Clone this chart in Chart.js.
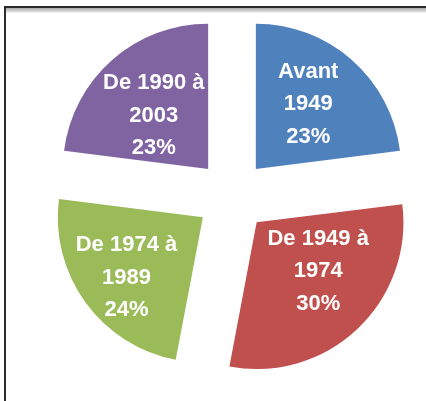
<!DOCTYPE html>
<html>
<head>
<meta charset="utf-8">
<script src="https://cdn.jsdelivr.net/npm/chart.js@4"></script>
<style>
  html, body { margin: 0; padding: 0; background: #fff; }
  #wrap { width: 426px; height: 401px; }
</style>
</head>
<body>
<div id="wrap"><canvas id="partChart"></canvas></div>
<script>
// périodes de construction et part de chacune
const periodes = ['Avant\n1949', 'De 1949 à\n1974', 'De 1974 à\n1989', 'De 1990 à\n2003'];
const parts = [23, 30, 24, 23];
const couleurs = ['#4F81BD', '#C0504D', '#9BBB59', '#8064A2'];

// place des étiquettes dans chaque part : [fraction du rayon, décalage d'angle en degrés]
const placeEtiquettes = [[0.59, -3.6], [0.53, -10], [0.66, -1], [0.54, -2.6]];

// cadre autour de l'image
const cadre = {
  id: 'cadre',
  beforeDraw(chart) {
    const ctx = chart.ctx;
    ctx.save();
    ctx.fillStyle = '#fff';
    ctx.fillRect(0, 0, chart.width, chart.height);
    const grad = ctx.createLinearGradient(0, 8, 0, 13);
    grad.addColorStop(0, '#a8a8a8');
    grad.addColorStop(1, '#f4f4f4');
    ctx.fillStyle = grad;
    ctx.fillRect(6, 8, chart.width - 6, 5);
    ctx.fillStyle = '#2b2b2b';
    ctx.fillRect(4, 6, chart.width - 4, 2);
    ctx.fillRect(4, 6, 2, chart.height - 6);
    ctx.restore();
  }
};

// texte blanc au milieu de chaque part
const etiquettes = {
  id: 'etiquettes',
  afterDatasetsDraw(chart) {
    const ctx = chart.ctx;
    const meta = chart.getDatasetMeta(0);
    ctx.save();
    ctx.fillStyle = '#fff';
    ctx.font = 'bold 22px "Liberation Sans", Arial, sans-serif';
    ctx.textAlign = 'center';
    ctx.textBaseline = 'middle';
    meta.data.forEach((arc, i) => {
      const p = arc.getProps(['x', 'y', 'startAngle', 'endAngle', 'outerRadius']);
      const mid = (p.startAngle + p.endAngle) / 2;
      // l'arc est déplacé du quart de son option offset
      const off = (arc.options.offset || 0) / 4;
      const cx = p.x + Math.cos(mid) * off;
      const cy = p.y + Math.sin(mid) * off;
      const [frac, dDeg] = placeEtiquettes[i];
      const a = mid + dDeg * Math.PI / 180;
      const tx = cx + Math.cos(a) * p.outerRadius * frac;
      const ty = cy + Math.sin(a) * p.outerRadius * frac + 3;
      const lignes = periodes[i].split('\n').concat(parts[i] + '%');
      lignes.forEach((l, k) => {
        ctx.fillText(l, tx, ty + (k - 1) * 32.5);
      });
    });
    ctx.restore();
  }
};

new Chart(document.getElementById('partChart'), {
  type: 'pie',
  data: {
    labels: periodes,
    datasets: [{
      data: parts,
      backgroundColor: couleurs,
      borderWidth: 0,
      offset: 144
    }]
  },
  options: {
    responsive: true,
    maintainAspectRatio: false,
    animation: false,
    radius: 145,
    layout: { padding: { left: 38, right: 0, top: 0, bottom: 9 } },
    plugins: {
      legend: { display: false },
      tooltip: { enabled: false }
    }
  },
  plugins: [cadre, etiquettes]
});
</script>
</body>
</html>
